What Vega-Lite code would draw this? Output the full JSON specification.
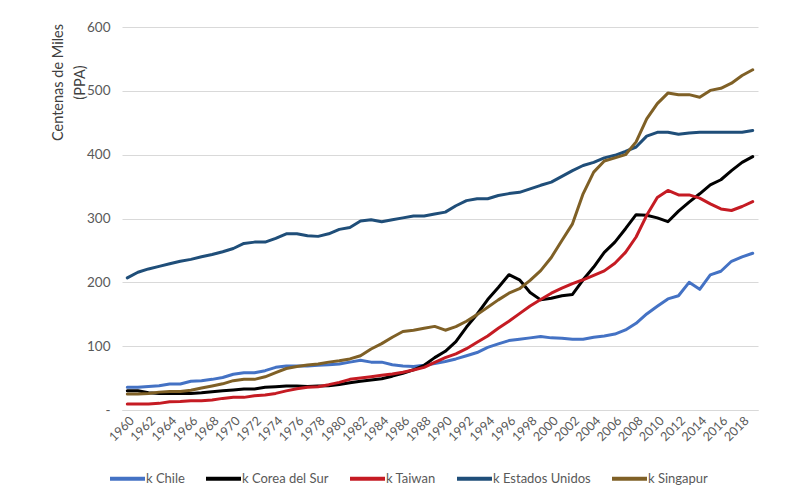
{
  "$schema": "https://vega.github.io/schema/vega-lite/v6.json",
  "width": 636,
  "height": 383,
  "autosize": {"type": "none"},
  "padding": {"left": 122, "top": 27, "right": 42, "bottom": 78},
  "background": "white",
  "config": {"font": "Lato", "view": {"stroke": null}},
  "data": {"values": [
    {"year":1960,"k Chile":35.5,"k Corea del Sur":30,"k Taiwan":9.4,"k Estados Unidos":207,"k Singapur":25},
    {"year":1961,"k Chile":35.5,"k Corea del Sur":30,"k Taiwan":9.4,"k Estados Unidos":215.8,"k Singapur":25},
    {"year":1962,"k Chile":37,"k Corea del Sur":27,"k Taiwan":9.4,"k Estados Unidos":221,"k Singapur":26},
    {"year":1963,"k Chile":38,"k Corea del Sur":26,"k Taiwan":10.4,"k Estados Unidos":225,"k Singapur":28},
    {"year":1964,"k Chile":40.7,"k Corea del Sur":26,"k Taiwan":13,"k Estados Unidos":229,"k Singapur":29},
    {"year":1965,"k Chile":40.7,"k Corea del Sur":26,"k Taiwan":13.5,"k Estados Unidos":233,"k Singapur":29},
    {"year":1966,"k Chile":45,"k Corea del Sur":26,"k Taiwan":14.6,"k Estados Unidos":236,"k Singapur":31},
    {"year":1967,"k Chile":46,"k Corea del Sur":27,"k Taiwan":14.6,"k Estados Unidos":240,"k Singapur":34.5},
    {"year":1968,"k Chile":48,"k Corea del Sur":28.7,"k Taiwan":15.7,"k Estados Unidos":243.5,"k Singapur":37.6},
    {"year":1969,"k Chile":51,"k Corea del Sur":30,"k Taiwan":18.2,"k Estados Unidos":248,"k Singapur":41},
    {"year":1970,"k Chile":56,"k Corea del Sur":31.4,"k Taiwan":19.8,"k Estados Unidos":253,"k Singapur":46},
    {"year":1971,"k Chile":58.5,"k Corea del Sur":33,"k Taiwan":19.8,"k Estados Unidos":261,"k Singapur":48},
    {"year":1972,"k Chile":58.5,"k Corea del Sur":33,"k Taiwan":22.4,"k Estados Unidos":263,"k Singapur":48},
    {"year":1973,"k Chile":61.6,"k Corea del Sur":35.5,"k Taiwan":23.5,"k Estados Unidos":263,"k Singapur":52},
    {"year":1974,"k Chile":66.8,"k Corea del Sur":36.5,"k Taiwan":26,"k Estados Unidos":269,"k Singapur":58.5},
    {"year":1975,"k Chile":69,"k Corea del Sur":37.5,"k Taiwan":30,"k Estados Unidos":276,"k Singapur":65},
    {"year":1976,"k Chile":69,"k Corea del Sur":37.5,"k Taiwan":33.4,"k Estados Unidos":276,"k Singapur":68},
    {"year":1977,"k Chile":69,"k Corea del Sur":37,"k Taiwan":35.5,"k Estados Unidos":273,"k Singapur":70.5},
    {"year":1978,"k Chile":70,"k Corea del Sur":37.5,"k Taiwan":36.5,"k Estados Unidos":272,"k Singapur":72},
    {"year":1979,"k Chile":71,"k Corea del Sur":38,"k Taiwan":39.7,"k Estados Unidos":276,"k Singapur":75},
    {"year":1980,"k Chile":72,"k Corea del Sur":40,"k Taiwan":43.3,"k Estados Unidos":283,"k Singapur":77},
    {"year":1981,"k Chile":75,"k Corea del Sur":42.8,"k Taiwan":48,"k Estados Unidos":286,"k Singapur":80},
    {"year":1982,"k Chile":78,"k Corea del Sur":45,"k Taiwan":50,"k Estados Unidos":296,"k Singapur":85},
    {"year":1983,"k Chile":75,"k Corea del Sur":47,"k Taiwan":52,"k Estados Unidos":298,"k Singapur":95.6},
    {"year":1984,"k Chile":75,"k Corea del Sur":49,"k Taiwan":54.3,"k Estados Unidos":295,"k Singapur":104},
    {"year":1985,"k Chile":71,"k Corea del Sur":53,"k Taiwan":56.4,"k Estados Unidos":298,"k Singapur":114},
    {"year":1986,"k Chile":69,"k Corea del Sur":57.4,"k Taiwan":59,"k Estados Unidos":301,"k Singapur":123},
    {"year":1987,"k Chile":68,"k Corea del Sur":63,"k Taiwan":62.7,"k Estados Unidos":304,"k Singapur":125},
    {"year":1988,"k Chile":70,"k Corea del Sur":70,"k Taiwan":66.8,"k Estados Unidos":304,"k Singapur":128},
    {"year":1989,"k Chile":73,"k Corea del Sur":82,"k Taiwan":74.7,"k Estados Unidos":307,"k Singapur":131},
    {"year":1990,"k Chile":76,"k Corea del Sur":92,"k Taiwan":82,"k Estados Unidos":310,"k Singapur":125},
    {"year":1991,"k Chile":80,"k Corea del Sur":107,"k Taiwan":88,"k Estados Unidos":320,"k Singapur":130.6},
    {"year":1992,"k Chile":85,"k Corea del Sur":130,"k Taiwan":96,"k Estados Unidos":328,"k Singapur":139},
    {"year":1993,"k Chile":90,"k Corea del Sur":150,"k Taiwan":106,"k Estados Unidos":331,"k Singapur":149.4},
    {"year":1994,"k Chile":98,"k Corea del Sur":173,"k Taiwan":116,"k Estados Unidos":331,"k Singapur":161},
    {"year":1995,"k Chile":103.5,"k Corea del Sur":192,"k Taiwan":128,"k Estados Unidos":336,"k Singapur":172.5},
    {"year":1996,"k Chile":108.7,"k Corea del Sur":212,"k Taiwan":139,"k Estados Unidos":339,"k Singapur":183},
    {"year":1997,"k Chile":110.7,"k Corea del Sur":204,"k Taiwan":151,"k Estados Unidos":341,"k Singapur":190},
    {"year":1998,"k Chile":113,"k Corea del Sur":184,"k Taiwan":163,"k Estados Unidos":346.5,"k Singapur":203},
    {"year":1999,"k Chile":115,"k Corea del Sur":172.5,"k Taiwan":173,"k Estados Unidos":352,"k Singapur":218.4},
    {"year":2000,"k Chile":113,"k Corea del Sur":175,"k Taiwan":183,"k Estados Unidos":357,"k Singapur":239},
    {"year":2001,"k Chile":112.5,"k Corea del Sur":179,"k Taiwan":191,"k Estados Unidos":366,"k Singapur":265.5},
    {"year":2002,"k Chile":110.7,"k Corea del Sur":181,"k Taiwan":198,"k Estados Unidos":375,"k Singapur":291.6},
    {"year":2003,"k Chile":110.7,"k Corea del Sur":204,"k Taiwan":204,"k Estados Unidos":383,"k Singapur":338.7},
    {"year":2004,"k Chile":114,"k Corea del Sur":224,"k Taiwan":211,"k Estados Unidos":388,"k Singapur":372.6},
    {"year":2005,"k Chile":116,"k Corea del Sur":247,"k Taiwan":218,"k Estados Unidos":395,"k Singapur":390},
    {"year":2006,"k Chile":119,"k Corea del Sur":263,"k Taiwan":230,"k Estados Unidos":399,"k Singapur":395},
    {"year":2007,"k Chile":125.4,"k Corea del Sur":284,"k Taiwan":247,"k Estados Unidos":405,"k Singapur":400},
    {"year":2008,"k Chile":135.8,"k Corea del Sur":306,"k Taiwan":271,"k Estados Unidos":412,"k Singapur":420},
    {"year":2009,"k Chile":150.5,"k Corea del Sur":305,"k Taiwan":305,"k Estados Unidos":429,"k Singapur":456},
    {"year":2010,"k Chile":162.5,"k Corea del Sur":301,"k Taiwan":333,"k Estados Unidos":435,"k Singapur":480},
    {"year":2011,"k Chile":174,"k Corea del Sur":295,"k Taiwan":344,"k Estados Unidos":435,"k Singapur":496.5},
    {"year":2012,"k Chile":179,"k Corea del Sur":311.5,"k Taiwan":337,"k Estados Unidos":432,"k Singapur":494},
    {"year":2013,"k Chile":200,"k Corea del Sur":325.6,"k Taiwan":337,"k Estados Unidos":434,"k Singapur":494},
    {"year":2014,"k Chile":189,"k Corea del Sur":338.7,"k Taiwan":332,"k Estados Unidos":435,"k Singapur":490},
    {"year":2015,"k Chile":211.7,"k Corea del Sur":352.8,"k Taiwan":323,"k Estados Unidos":435,"k Singapur":500.7},
    {"year":2016,"k Chile":217.4,"k Corea del Sur":360.7,"k Taiwan":315,"k Estados Unidos":435,"k Singapur":504},
    {"year":2017,"k Chile":233,"k Corea del Sur":375,"k Taiwan":312.5,"k Estados Unidos":435,"k Singapur":512},
    {"year":2018,"k Chile":240,"k Corea del Sur":388,"k Taiwan":318.8,"k Estados Unidos":435,"k Singapur":524},
    {"year":2019,"k Chile":245.6,"k Corea del Sur":397,"k Taiwan":326.6,"k Estados Unidos":438,"k Singapur":533}
  ]},
  "transform": [
    {"fold": ["k Chile","k Corea del Sur","k Taiwan","k Estados Unidos","k Singapur"], "as": ["serie","valor"]}
  ],
  "mark": {"type": "line", "strokeWidth": 3, "strokeJoin": "round", "strokeCap": "round"},
  "encoding": {
    "x": {
      "field": "year", "type": "ordinal",
      "axis": {
        "values": [1960,1962,1964,1966,1968,1970,1972,1974,1976,1978,1980,1982,1984,1986,1988,1990,1992,1994,1996,1998,2000,2002,2004,2006,2008,2010,2012,2014,2016,2018],
        "labelAngle": -45, "ticks": false, "grid": false,
        "domainColor": "#D9D9D9", "title": null,
        "labelFontSize": 12.5, "labelColor": "#595959", "labelPadding": 4
      }
    },
    "y": {
      "field": "valor", "type": "quantitative",
      "scale": {"domain": [0, 600]},
      "axis": {
        "values": [0,100,200,300,400,500,600],
        "title": ["Centenas de Miles", "(PPA)"],
        "domain": false, "ticks": false,
        "gridColor": "#D9D9D9",
        "labelFontSize": 13.5, "labelColor": "#595959", "labelPadding": 12,
        "labelExpr": "datum.value == 0 ? '-\u00a0\u00a0' : datum.label",
        "titleFontWeight": "normal", "titleFontSize": 14.5, "titleColor": "#404040",
        "titleLineHeight": 22,
        "titleAngle": -90, "titleX": -64, "titleY": 55,
        "titleAlign": "center", "titleBaseline": "middle"
      }
    },
    "color": {
      "field": "serie", "type": "nominal",
      "scale": {
        "domain": ["k Chile","k Corea del Sur","k Taiwan","k Estados Unidos","k Singapur"],
        "range": ["#4472C4","#000000","#C51B23","#1F4E79","#7F6026"]
      },
      "legend": {
        "title": null, "orient": "none", "direction": "horizontal",
        "legendX": -14, "legendY": 432,
        "symbolType": "stroke", "symbolSize": 1225, "symbolStrokeWidth": 4,
        "labelFontSize": 13, "labelColor": "#595959", "labelOffset": -1,
        "columnPadding": 13
      }
    }
  }
}
